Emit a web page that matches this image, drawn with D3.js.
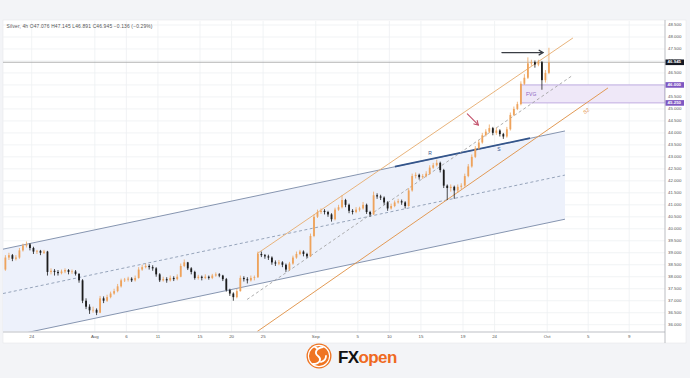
<!DOCTYPE html>
<html><head><meta charset="utf-8">
<script src="https://cdn.jsdelivr.net/npm/d3@7"></script>
<style>body{margin:0;background:#f3f4f7}svg{display:block}</style>
</head><body><svg id="c" width="690" height="378"></svg>
<script>
// ---- data (8h candles, 3 per trading day, starting Jul 21) ----
const candlesPerDay = 3;
const firstOpen = 38.20;
const closes = [38.30,38.80,38.90,38.75,38.80,39.10,39.30,39.35,39.20,39.05,
 39.08,39.00,39.05,38.20,38.25,38.20,38.15,38.22,38.28,38.20,
 38.22,38.12,37.85,37.00,36.75,36.60,36.62,36.50,37.10,37.00,
 37.15,37.30,37.40,37.60,37.85,37.88,37.92,37.85,37.95,38.30,
 38.40,38.45,38.40,38.35,38.10,37.85,37.90,37.85,37.95,37.90,
 38.00,38.45,38.60,38.35,38.20,37.95,38.00,37.95,38.00,37.95,
 38.05,38.10,38.05,37.90,37.45,37.30,37.15,37.40,37.95,37.90,
 37.85,37.95,37.98,38.95,38.90,38.85,38.80,38.60,38.55,38.60,
 38.50,38.30,38.55,38.80,38.95,39.05,38.95,38.85,39.70,40.50,
 40.70,40.75,40.70,40.60,40.40,40.80,40.90,41.20,41.00,40.75,
 40.70,40.80,40.85,41.00,40.70,40.60,41.40,41.35,41.30,41.10,
 40.85,40.95,41.10,41.15,41.10,40.95,41.60,42.20,42.25,42.15,
 42.20,42.30,42.55,42.65,42.75,42.45,41.80,41.70,41.75,41.60,
 41.75,41.80,42.20,42.60,43.00,43.35,43.60,43.90,44.05,44.20,
 44.00,44.10,43.95,43.85,44.15,44.75,45.00,45.20,46.05,46.30,
 46.90,46.95,46.85,46.95,46.20,46.50,46.945];
const highs = [38.45,38.90,39.00,38.95,38.90,39.20,39.38,39.47,39.40,39.25,
 39.12,39.12,39.12,39.08,38.35,38.32,38.28,38.30,38.35,38.32,
 38.30,38.28,38.15,37.90,37.10,36.85,36.75,36.68,37.20,37.18,
 37.25,37.38,37.50,37.70,37.92,37.95,38.00,37.98,38.05,38.40,
 38.50,38.55,38.52,38.48,38.40,38.15,38.00,37.98,38.05,38.02,
 38.10,38.55,38.72,38.62,38.40,38.25,38.08,38.05,38.10,38.05,
 38.12,38.18,38.15,38.08,37.95,37.50,37.35,37.50,38.05,38.02,
 37.98,38.05,38.05,39.05,39.05,38.95,38.92,38.85,38.68,38.70,
 38.65,38.55,38.62,38.88,39.05,39.12,39.10,39.00,39.80,40.60,
 40.80,40.85,40.82,40.75,40.65,40.88,41.00,41.40,41.25,41.05,
 40.82,40.90,40.92,41.12,41.05,40.75,41.55,41.48,41.42,41.35,
 41.15,41.05,41.18,41.25,41.22,41.15,41.70,42.30,42.35,42.30,
 42.28,42.40,42.65,42.75,42.88,42.80,42.50,41.85,41.85,41.80,
 41.85,41.90,42.30,42.70,43.10,43.45,43.70,44.00,44.15,44.35,
 44.25,44.22,44.15,44.00,44.25,44.85,45.10,45.30,46.15,46.45,
 47.15,47.05,47.02,47.05,47.00,46.62,47.55];
const lows = [38.10,38.25,38.70,38.65,38.68,38.75,39.05,39.22,39.10,38.95,
 38.95,38.90,38.95,38.05,38.10,38.05,38.05,38.10,38.15,38.10,
 38.12,38.05,37.75,36.90,36.65,36.45,36.50,36.40,36.48,36.90,
 36.95,37.10,37.25,37.35,37.55,37.78,37.80,37.78,37.80,37.92,
 38.25,38.35,38.30,38.25,38.00,37.78,37.80,37.75,37.80,37.82,
 37.85,37.98,38.40,38.28,38.10,37.88,37.88,37.85,37.90,37.88,
 37.90,38.00,37.98,37.82,37.38,37.20,37.00,37.10,37.38,37.80,
 37.72,37.80,37.85,37.95,38.82,38.75,38.70,38.50,38.45,38.48,
 38.40,38.20,38.25,38.50,38.75,38.90,38.85,38.78,38.82,39.65,
 40.45,40.62,40.60,40.50,40.30,40.35,40.75,40.85,40.90,40.65,
 40.60,40.65,40.72,40.80,40.62,40.50,40.58,41.25,41.20,41.00,
 40.75,40.80,40.90,41.05,41.00,40.85,40.92,41.55,42.10,42.05,
 42.08,42.15,42.25,42.50,42.60,42.35,41.70,41.20,41.55,41.25,
 41.50,41.65,41.75,42.15,42.55,42.95,43.30,43.55,43.85,44.00,
 43.90,43.92,43.85,43.75,43.80,44.10,44.70,44.95,45.15,46.00,
 46.25,46.80,46.72,46.78,45.80,46.10,46.45];

const priceTicks = [36,36.5,37,37.5,38,38.5,39,39.5,40,40.5,41,41.5,42,42.5,43,43.5,44,44.5,45,45.5,46,46.5,47,47.5,48,48.5];
const dateTickLabels = ["24","Aug","6","11","15","20","25","Sep","5","10","15","19","24","Oct","5","9"];
const dateTickDays   = [3,9,12,15,19,22,25,30,34,37,40,44,47,52,55.9,59.8];

const markerPrices = [46.945, 46.0, 45.25];
const markerLabels = ["46.945","46.000","45.250"];
const markerColors = ["#131722","#7e57c2","#7e57c2"];

// drawings (day index, price)
const blueUpper = [[0.27,39.15],[53.69,44.08]];
const blueLower = [[0.27,35.46],[53.69,40.40]];
const blueMid   = [[0.27,37.30],[53.69,42.24]];
const resistR   = [[37.53,42.59],[50.37,43.78]];
const orangeUpper = [[24.42,38.96],[54.45,47.96]];
const orangeLower = [[24.42,35.71],[57.78,45.875]];
const orangeMid   = [[23.47,37.05],[54.45,46.41]];
const fvgDays = [49.51, 63.2];
const fvgPrices = [45.25, 46.0];
const blackArrow = [[47.7,47.35],[51.6,47.35]];
const redArrow = [[44.41,44.79],[45.45,44.33]];
const labelNames = ["R","S","FVG","S2"];
const labelPos = [[40.86,43.15],[47.42,43.29],[49.99,45.58],[55.74,44.90]];
const titleText = "Silver, 4h  O47.076  H47.145  L46.891  C46.945  \u22120.136 (\u22120.29%)";

// ---- layout ----
const svg = d3.select("#c");
const P = {l:3, r:665, t:21, b:332};
const x = d3.scaleLinear().domain([0, 63.2]).range([0.14, 665]);
const y = d3.scaleLinear().domain([36, 48.5]).range([324.7, 25]);
const FONT = "'Liberation Sans', Arial, sans-serif";

svg.append("rect").attr("width",690).attr("height",378).attr("fill","#f3f4f7");
svg.append("rect").attr("x",3).attr("y",20).attr("width",683).attr("height",323)
  .attr("fill","#fff").attr("stroke","#e6e7ea").attr("stroke-width",0.6);

const defs = svg.append("defs");
defs.append("clipPath").attr("id","pc").append("rect")
  .attr("x",P.l).attr("y",P.t).attr("width",P.r-P.l).attr("height",P.b-P.t);

// grid
const grid = svg.append("g").attr("stroke","#eef0f3").attr("stroke-width",0.8);
grid.selectAll("line.h").data(priceTicks).join("line")
  .attr("x1",P.l).attr("x2",P.r).attr("y1",d=>y(d)).attr("y2",d=>y(d));
grid.selectAll("line.v").data(dateTickDays).join("line")
  .attr("x1",d=>x(d)).attr("x2",d=>x(d)).attr("y1",P.t).attr("y2",P.b);

const plot = svg.append("g").attr("clip-path","url(#pc)");
const line = d3.line().x(d=>x(d[0])).y(d=>y(d[1]));

// blue channel
plot.append("path").attr("d", line([blueUpper[0],blueUpper[1],blueLower[1],blueLower[0]])+"Z")
  .attr("fill","#edf1fb").attr("stroke","none");
plot.append("path").attr("d",line(blueUpper)).attr("stroke","#8695b0").attr("stroke-width",1).attr("fill","none");
plot.append("path").attr("d",line(blueLower)).attr("stroke","#8695b0").attr("stroke-width",1).attr("fill","none");
plot.append("path").attr("d",line(blueMid)).attr("stroke","#8090aa").attr("stroke-width",0.8)
  .attr("stroke-dasharray","3,2.5").attr("fill","none");
plot.append("path").attr("d",line(resistR)).attr("stroke","#34558b").attr("stroke-width",1.8).attr("fill","none");

// FVG box
plot.append("rect").attr("x",x(fvgDays[0])).attr("y",y(fvgPrices[1]))
  .attr("width",x(fvgDays[1])-x(fvgDays[0])).attr("height",y(fvgPrices[0])-y(fvgPrices[1]))
  .attr("fill","#efe8f8").attr("stroke","#b49ddc").attr("stroke-width",0.8);

// orange channel
plot.append("path").attr("d",line(orangeUpper)).attr("stroke","#e9b47c").attr("stroke-width",1).attr("fill","none");
plot.append("path").attr("d",line(orangeLower)).attr("stroke","#e29a55").attr("stroke-width",1).attr("fill","none");
plot.append("path").attr("d",line(orangeMid)).attr("stroke","#9a9a9a").attr("stroke-width",0.8)
  .attr("stroke-dasharray","3,2.5").attr("fill","none");

// last price line
plot.append("line").attr("x1",P.l).attr("x2",P.r).attr("y1",y(46.945)).attr("y2",y(46.945))
  .attr("stroke","#a3a3a3").attr("stroke-width",0.8);

// candles
const candles = closes.map((c,i)=>({i, o: i===0?firstOpen:closes[i-1], c, h: highs[i], l: lows[i]}));
const cx = d => x((d.i+0.5)/candlesPerDay);
const up = "#eea35c", dn = "#1c1c1c";
const cg = plot.append("g");
cg.selectAll("line").data(candles).join("line")
  .attr("x1",cx).attr("x2",cx).attr("y1",d=>y(d.h)).attr("y2",d=>y(d.l))
  .attr("stroke",d=>d.c>=d.o?up:dn).attr("stroke-width",0.8);
cg.selectAll("rect").data(candles).join("rect")
  .attr("x",d=>cx(d)-0.9).attr("width",1.8)
  .attr("y",d=>y(Math.max(d.o,d.c))).attr("height",d=>Math.max(0.6, Math.abs(y(d.o)-y(d.c))))
  .attr("fill",d=>d.c>=d.o?up:dn);

// arrows
function arrow(pts, color, w){
  const x0=x(pts[0][0]), y0=y(pts[0][1]), x1=x(pts[1][0]), y1=y(pts[1][1]);
  const a = Math.atan2(y1-y0, x1-x0), L=4.5;
  const g = plot.append("g").attr("stroke",color).attr("stroke-width",w).attr("fill","none").attr("stroke-linecap","round");
  g.append("line").attr("x1",x0).attr("y1",y0).attr("x2",x1).attr("y2",y1);
  g.append("path").attr("d",`M${x1-L*Math.cos(a-0.55)},${y1-L*Math.sin(a-0.55)}L${x1},${y1}L${x1-L*Math.cos(a+0.55)},${y1-L*Math.sin(a+0.55)}`);
}
arrow(blackArrow,"#3a3d44",1.3);
arrow(redArrow,"#c2506a",1.1);

// text labels
const labelColors = ["#34558b","#34558b","#8e5fc0","#df8a3e"];
const ang = Math.atan2(y(orangeLower[1][1])-y(orangeLower[0][1]), x(orangeLower[1][0])-x(orangeLower[0][0]))*180/Math.PI;
labelNames.forEach((t,k)=>{
  const px=x(labelPos[k][0]), py=y(labelPos[k][1]);
  const tx = plot.append("text").text(t).attr("font-family",FONT).attr("font-size",5)
    .attr("fill",labelColors[k]).attr("dominant-baseline","middle");
  if(t==="S2") tx.attr("text-anchor","middle").attr("transform",`translate(${px},${py}) rotate(${ang})`);
  else if(t==="FVG") tx.attr("x",px).attr("y",py);
  else tx.attr("x",px).attr("y",py).attr("text-anchor","middle");
});

// axes
svg.append("line").attr("x1",P.l).attr("x2",P.r).attr("y1",P.b).attr("y2",P.b).attr("stroke","#d3d5d9").attr("stroke-width",1.4);
svg.append("line").attr("x1",P.r).attr("x2",P.r).attr("y1",20).attr("y2",343).attr("stroke","#a9acb2").attr("stroke-width",0.8);

svg.append("g").selectAll("text").data(priceTicks).join("text")
  .attr("x",668).attr("y",d=>y(d)).attr("dominant-baseline","middle")
  .attr("font-family",FONT).attr("font-size",4.4).attr("fill","#555")
  .text(d=>d3.format(".3f")(d));

svg.append("g").selectAll("text").data(dateTickDays).join("text")
  .attr("x",d=>x(d)).attr("y",338.4).attr("text-anchor","middle")
  .attr("font-family",FONT).attr("font-size",4.4).attr("fill","#555")
  .text((d,i)=>dateTickLabels[i]);

// price markers
const mk = svg.append("g").selectAll("g").data(markerPrices).join("g");
mk.append("rect").attr("x",665.5).attr("y",d=>y(d)-2.8).attr("width",18.5).attr("height",5.6)
  .attr("fill",(d,i)=>markerColors[i]);
mk.append("text").attr("x",667.6).attr("y",d=>y(d)).attr("dominant-baseline","middle")
  .attr("font-family",FONT).attr("font-size",4.4).attr("fill","#fff").attr("font-weight","bold")
  .text((d,i)=>markerLabels[i]);

// title
svg.append("text").attr("x",6.5).attr("y",28.3).attr("font-family",FONT).attr("font-size",4.9)
  .attr("fill","#555").attr("textLength",146).attr("lengthAdjust","spacing").text(titleText);

// logo
const lg = svg.append("g");
lg.append("circle").attr("cx",319).attr("cy",356).attr("r",12.5).attr("fill","#ef7422");
lg.append("circle").attr("cx",319).attr("cy",356).attr("r",10.6).attr("fill","none").attr("stroke","#fff").attr("stroke-width",1.1);
lg.append("path").attr("d","M323,347 C316,348 314,353 318,356 C322,359 320,364 313,364 M318,349 l-3,-2 M321,362 c3,-1 5,-3 5,-6")
  .attr("fill","none").attr("stroke","#fff").attr("stroke-width",1.8).attr("stroke-linecap","round");
const lt = svg.append("text").attr("x",338).attr("y",362.5).attr("font-family","'Liberation Sans', Arial, sans-serif")
  .attr("font-size",17).attr("font-weight","bold").attr("letter-spacing",-0.6);
lt.append("tspan").attr("fill","#111").text("FX");
lt.append("tspan").attr("fill","#ef6a1f").text("open");
</script></body></html>
